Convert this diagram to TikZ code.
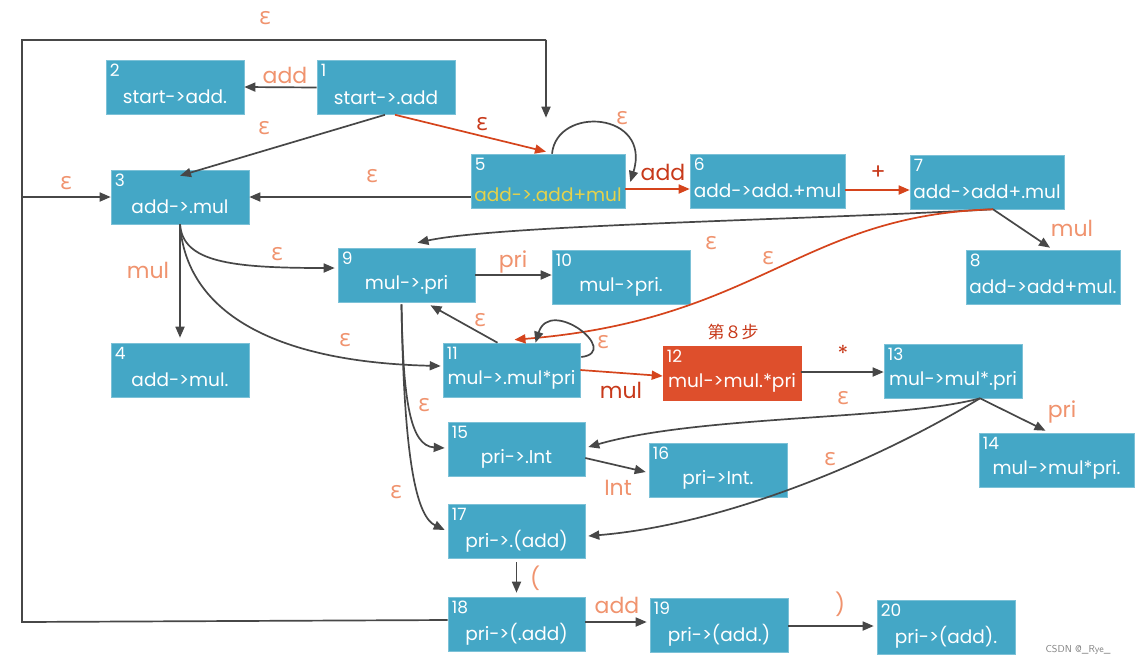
\documentclass[tikz,border=0pt]{standalone}
\usepackage{fontspec}
\setmainfont{Poppins}
\newfontfamily\grk{Open Sans}
\newfontfamily\cjk{Noto Sans CJK SC}
\usetikzlibrary{arrows.meta}
\definecolor{boxc}{HTML}{44A7C6}
\definecolor{orbox}{HTML}{DE4F2C}
\definecolor{salm}{HTML}{F0936E}
\definecolor{redl}{HTML}{D5441C}
\definecolor{redt}{HTML}{C8391A}
\definecolor{dkc}{HTML}{474747}
\definecolor{yel}{HTML}{E6D24A}
\newcommand{\eps}{{\grk ε}}
\newcommand{\stboxx}[8]{%
  \node[box, minimum width=#4pt, #7] (#1) at (#2,#3) {};
  \node[numtxt, anchor=north west] (#1n) at ([xshift=3pt,yshift=-3pt]#1.north west) {#5};
  \node[ruletxt] (#1t) at ([yshift=#8]#1.center) {#6};}
\newcommand{\stbox}[7]{\stboxx{#1}{#2}{#3}{#4}{#5}{#6}{#7}{-10pt}}
\tikzset{
  box/.style={fill=boxc, draw=boxc!70!white, line width=0.6pt, minimum height=54pt, inner sep=0pt},
  numtxt/.style={text=white, font=\fontsize{17}{17}\selectfont, inner sep=1pt},
  ruletxt/.style={text=white, font=\fontsize{18.5}{18.5}\selectfont, inner sep=0pt},
  dk/.style={draw=dkc, line width=1.7pt, -{Triangle[length=11pt,width=9pt]}},
  rd/.style={draw=redl, line width=1.7pt, -{Triangle[length=11pt,width=9pt]}},
  plain/.style={draw=dkc, line width=1.7pt},
  lab/.style={text=salm, font=\fontsize{22}{22}\selectfont, inner sep=0pt},
  elab/.style={text=salm, font=\fontsize{24}{24}\selectfont, inner sep=0pt},
  rlab/.style={text=redt, font=\fontsize{22}{22}\selectfont, inner sep=0pt},
  relab/.style={text=redt, font=\fontsize{24}{24}\selectfont, inner sep=0pt},
}
\begin{document}
\begin{tikzpicture}[x=1pt,y=-1pt]
\fill[white] (0,0) rectangle (1142,665);
\useasboundingbox (0,0) rectangle (1142,665);
% states
\stbox{n1}{386}{87.5}{138}{1}{start->.add}{}
\stbox{n2}{175}{87}{138}{2}{start->add.}{}
\stbox{n3}{180}{197}{138}{3}{add->.mul}{}
\stboxx{n5}{548}{181}{154}{5}{\color{yel}add->.add+mul}{}{-14pt}
\stbox{n6}{767.5}{181}{155}{6}{add->add.+mul}{}
\stbox{n7}{987}{182}{154}{7}{add->add+.mul}{}
\stbox{n8}{1043}{277}{154}{8}{add->add+mul.}{}
\stbox{n9}{406.5}{275}{137}{9}{mul->.pri}{}
\stbox{n10}{621}{277}{138}{10}{mul->pri.}{}
\stbox{n4}{180}{370}{138}{4}{add->mul.}{}
\stbox{n11}{511.5}{370}{137}{11}{mul->.mul*pri}{}
\stbox{n12}{732}{373}{138}{12}{mul->mul.*pri}{fill=orbox, draw=orbox}
\stbox{n13}{953}{371}{138}{13}{mul->mul*.pri}{}
\stbox{n14}{1056.5}{460}{155}{14}{mul->mul*pri.}{}
\stbox{n15}{516.5}{449}{137}{15}{pri->.Int}{}
\stbox{n16}{718}{470}{138}{16}{pri->Int.}{}
\stbox{n17}{516.5}{531}{137}{17}{pri->.(add)}{}
\stbox{n18}{516.5}{624}{137}{18}{pri->(.add)}{}
\stbox{n19}{719}{625}{138}{19}{pri->(add.)}{}
\stbox{n20}{946}{627}{138}{20}{pri->(add).}{}
% corner coordinates of the outer loop
\coordinate (cbl) at (22,622);
\coordinate (ctl) at (22,40);
\coordinate (ctr) at (546,40);
\coordinate (cml) at (22,197);
% outer loop from 18
\draw[plain] ([yshift=4pt]n18.west) -- (cbl) -- (ctl) -- (ctr);
\draw[dk, shorten >=36pt] (ctr) -- (ctr |- n5.north);
\draw[dk] (cml) -- (n3.west);
% edges
\draw[dk] (n1.west) -- (n2.east);
\draw[dk] ([xshift=-1pt]n1.south) -- ([yshift=-6pt]n3.north);
\draw[rd] ([xshift=9pt]n1.south) -- ([yshift=2pt,xshift=-2pt]n5.north);
\draw[dk] ([yshift=-16pt]n5.west) -- ([yshift=0pt]n3.east);
\draw[dk] ([xshift=4pt]n5.north) .. controls (557,105) and (652,112) .. ([xshift=5pt,yshift=-1pt]n5.east);
\draw[rd] ([yshift=-8pt]n5.east) -- ([yshift=-8pt]n6.west);
\draw[rd] ([yshift=-9pt]n6.east) -- ([yshift=-8pt]n7.west);
\draw[dk] ([xshift=6pt]n7.south) -- ([xshift=7pt,yshift=2pt]n8.north);
\draw[dk] ([xshift=6pt]n7.south) .. controls (800,220) and (500,225) .. ([xshift=11pt,yshift=5pt]n9.north);
\draw[rd] ([xshift=6pt]n7.south) .. controls (800,215) and (760,320) .. ([xshift=3pt,yshift=3pt]n11.north);
\draw[dk] (n3.south) .. controls (183,262) and (230,268) .. ([yshift=7pt,xshift=-3pt]n9.west);
\draw[dk] (n3.south) -- ([yshift=5pt]n4.north);
\draw[dk] (n3.south) .. controls (186,310) and (270,362) .. ([yshift=4pt,xshift=-2pt]n11.west);
\draw[dk] (n9.east) -- (n9.east -| n10.west);
\draw[dk] ([xshift=-14pt]n11.north) -- ([xshift=24pt,yshift=-3pt]n9.south);
\draw[dk] ([yshift=13pt,xshift=1pt]n11.east) .. controls (622,352) and (550,296) .. ([xshift=24pt]n11.north);
\draw[rd] ([yshift=0pt]n11.east) -- ([yshift=-3pt]n12.west);
\draw[dk] ([yshift=1pt]n12.east) -- ([yshift=-1pt]n13.west);
\draw[dk] ([xshift=27pt]n13.south) -- ([xshift=-11pt,yshift=2pt]n14.north);
\draw[dk] ([xshift=27pt]n13.south) .. controls (900,420) and (700,415) .. ([yshift=2pt,xshift=3pt]n15.east);
\draw[dk] ([xshift=27pt]n13.south) .. controls (870,465) and (720,525) .. ([yshift=-5pt,xshift=3pt]n17.east);
\draw[dk] ([xshift=-5pt,yshift=-2pt]n9.south) .. controls (403,400) and (410,446) .. ([xshift=-3pt,yshift=1pt]n15.west);
\draw[dk] ([xshift=-5pt,yshift=-2pt]n9.south) .. controls (404,470) and (418,517) .. ([xshift=-3pt,yshift=1pt]n17.west);
\draw[dk] ([yshift=-9pt]n15.east) -- ([yshift=-2pt,xshift=-3pt]n16.west);
\draw[dk] ([yshift=-4pt]n17.south) -- ([yshift=4pt]n18.north);
\draw[dk] ([yshift=2pt]n18.east) -- ([yshift=3pt,xshift=-3pt]n19.west);
\draw[dk] ([yshift=-1pt]n19.east) -- ([yshift=1pt,xshift=-3pt]n20.west);
% labels
\node[elab] (l1) at (265,18) {\eps};
\node[lab] (l2) at (285,75) {add};
\node[elab] (l3) at (264,128) {\eps};
\node[relab] (l4) at (482,124) {\eps};
\node[elab] (l5) at (66,183) {\eps};
\node[elab] (l6) at (372,176) {\eps};
\node[elab] (l7) at (622,118) {\eps};
\node[rlab] (l8) at (663,172) {add};
\node[rlab] (l9) at (878,173) {+};
\node[lab] (l10) at (1072,228) {mul};
\node[elab] (l11) at (711,243) {\eps};
\node[elab] (l12) at (768,258) {\eps};
\node[elab] (l13) at (277,254) {\eps};
\node[lab] (l14) at (148,270) {mul};
\node[lab] (l15) at (513,262) {pri};
\node[elab] (l16) at (345,340) {\eps};
\node[elab] (l17) at (480,320) {\eps};
\node[elab] (l18) at (603,342) {\eps};
\node[text=redt, font=\cjk\fontsize{17}{17}\selectfont, inner sep=0pt] (l19) at (733,332) {第８步};
\node[rlab] (l20) at (843,353) {*};
\node[rlab] (l21) at (621,390) {mul};
\node[elab] (l22) at (843,398) {\eps};
\node[lab] (l23) at (1062,412) {pri};
\node[elab] (l24) at (424,405) {\eps};
\node[elab] (l25) at (830,459) {\eps};
\node[lab] (l26) at (618,488) {Int};
\node[elab] (l27) at (396,492) {\eps};
\node[lab] (l28) at (535,578) {(};
\node[lab] (l29) at (617,605) {add};
\node[lab] (l30) at (840,604) {)};
\node[text=gray, font=\fontsize{10}{10}\selectfont\sffamily, inner sep=0pt] (wm) at (1078,650) {CSDN @\_Rye\_};
\end{tikzpicture}
\end{document}
